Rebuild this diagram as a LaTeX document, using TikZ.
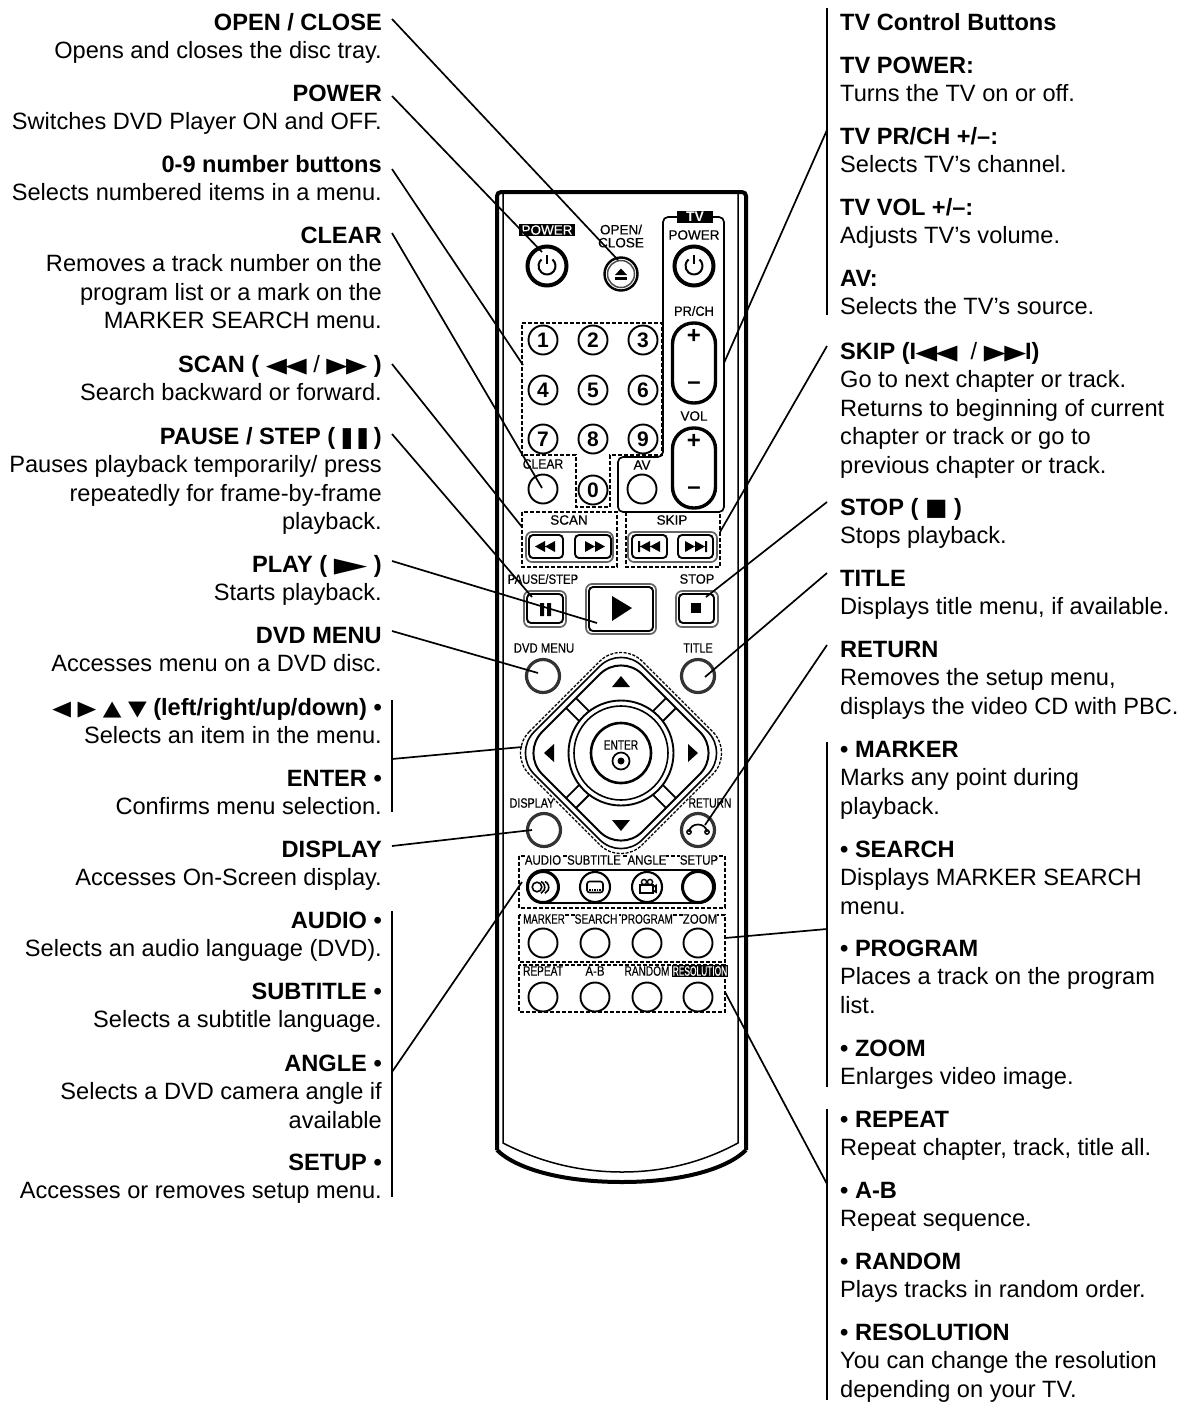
\documentclass[tikz,border=0pt]{standalone}
\usepackage{fontspec}
\usepackage{graphicx}
\setmainfont{Liberation Sans}
\newfontfamily\dvsym{DejaVu Sans}
\newfontfamily\labfont[FakeBold=0.35]{Liberation Sans}
\newcommand\txtfont{\fontsize{23.6}{28.5}\selectfont}
\newcommand\sy[1]{{\dvsym\fontsize{19}{19}\selectfont #1}}
\newcommand\sw[2]{\scalebox{#1}[1.1]{\sy{#2}}}
\newcommand\LL[3]{\node[anchor=north east,inner sep=0pt,align=right,font=\txtfont] (#1) at (382,{#2-20}) {\rule{0pt}{20pt}#3};}
\newcommand\RR[3]{\node[anchor=north west,inner sep=0pt,align=left,font=\txtfont] (#1) at (840,{#2-20}) {\rule{0pt}{20pt}#3};}
\newcommand\RL[5]{\node[rlab] (#1) at (#2,#3) {\scalebox{#4}[1]{#5}};}
\newcommand\RW[5]{\node[rlab,fill=black,text=white,inner xsep=1pt,inner ysep=1pt] (#1) at (#2,#3) {\scalebox{#4}[1]{#5}};}
\newcommand\pwr[2]{\draw[line width=2] ([shift={(-50:8.5)}]#1,#2) arc (-50:230:8.5); \draw[line width=2] (#1,#2-11) -- (#1,#2-2);}
\tikzset{
 rlab/.style={inner sep=0pt,fill=white,font=\labfont\fontsize{13.5}{13.5}\selectfont},
 conn/.style={line width=1.7},
 dash box/.style={line width=1.4,dash pattern=on 4pt off 2pt},
 btn/.style={circle,draw,line width=1.9,inner sep=0pt,minimum size=29},
 numbtn/.style={btn,font=\fontsize{21}{21}\selectfont\bfseries},
 bigbtn/.style={circle,draw,line width=4,inner sep=0pt,minimum size=39},
 grybtn/.style={circle,draw=black!80,line width=3.2,inner sep=0pt,minimum size=33},
 outerkey/.style={draw=black!60,line width=1.7,rounded corners=6},
 innerkey/.style={draw,line width=1.9,rounded corners=4},
 tri/.style={fill=black,draw=none},
 pill/.style={draw,line width=3.4,rounded corners=21}
}
\begin{document}
\begin{tikzpicture}[x=1pt,y=-1pt]
\useasboundingbox[fill=white] (0,0) rectangle (1182,1409);

% ---------- remote body
\draw[line width=4,rounded corners=4] (497,1150) -- (497,192) -- (746,192) -- (746,1150);
\draw[line width=4] (497,1150) .. controls (515,1168) and (560,1182) .. (622,1182) .. controls (684,1182) and (728,1168) .. (746,1150);
\draw[line width=1.5] (503,192) -- (503,1143) .. controls (530,1157) and (570,1172) .. (622,1172) .. controls (674,1172) and (712,1157) .. (738,1143) -- (738,192);

% ---------- top row
\node[bigbtn] (bPower) at (547,266) {};
\pwr{547}{266}
\node[rlab,fill=black,text=white,inner xsep=2.5pt,inner ysep=1.5pt] (lPower) at (547,230) {POWER};
\node[circle,draw,line width=2.4,inner sep=0pt,minimum size=33] (bOpen) at (621,274) {};
\node[circle,draw=black!70,line width=1.5,inner sep=0pt,minimum size=27] (bOpenIn) at (621,274) {};
\fill[tri] (615,275) -- (621,268.5) -- (627,275) -- cycle;
\fill (615,277) rectangle (627,280);
\node[rlab,align=center,font=\labfont\fontsize{13.5}{13}\selectfont] (lOpen) at (621,236) {OPEN/\\CLOSE};

% ---------- TV box
\draw[line width=1.7,rounded corners=5] (663,320) -- (663,217) -- (724,217) -- (724,512) -- (618,512) -- (618,457) -- (663,457) -- (663,320);
\node[inner sep=0pt,fill=black,text=white,inner xsep=9pt,inner ysep=1.5pt,font=\fontsize{14}{14}\selectfont\bfseries] (lTV) at (695,217) {TV};
\RL{lTvPower}{694}{235}{1}{POWER}
\node[bigbtn] (bTvPower) at (694,266) {};
\pwr{694}{266}
\RL{lPrCh}{694}{311}{.95}{PR/CH}
\draw[pill] (672.5,323) rectangle (715.5,403);
\node[inner sep=0pt,font=\fontsize{24}{24}\selectfont\bfseries] (plusA) at (694,336) {+};
\node[inner sep=0pt,font=\fontsize{24}{24}\selectfont\bfseries] (minusA) at (694,386) {–};
\RL{lVol}{694}{416}{1}{VOL}
\draw[pill] (672.5,428) rectangle (715.5,508);
\node[inner sep=0pt,font=\fontsize{24}{24}\selectfont\bfseries] (plusB) at (694,441) {+};
\node[inner sep=0pt,font=\fontsize{24}{24}\selectfont\bfseries] (minusB) at (694,491) {–};

% ---------- number block
\draw[dash box] (522,323) -- (662,323) -- (662,455) -- (610,455) -- (610,507) -- (576,507) -- (576,455) -- (522,455) -- cycle;
\node[numbtn] (n1) at (543,340) {1};
\node[numbtn] (n2) at (593,340) {2};
\node[numbtn] (n3) at (643,340) {3};
\node[numbtn] (n4) at (543,390) {4};
\node[numbtn] (n5) at (593,390) {5};
\node[numbtn] (n6) at (643,390) {6};
\node[numbtn] (n7) at (543,439) {7};
\node[numbtn] (n8) at (593,439) {8};
\node[numbtn] (n9) at (643,439) {9};
\node[numbtn] (n0) at (593,490) {0};
\node[btn] (bClear) at (543,489) {};
\node[btn] (bAV) at (642,489) {};
\RL{lClear}{543}{464}{.9}{CLEAR}
\RL{lAV}{642}{465}{1}{AV}

% ---------- scan / skip
\draw[dash box] (522,512) rectangle (617,567);
\draw[dash box] (626,512) rectangle (720,567);
\RL{lScan}{569}{520}{1}{SCAN}
\RL{lSkip}{672}{520}{1}{SKIP}
\draw[outerkey] (526,532) rectangle (613,562);
\draw[innerkey] (529,535) rectangle (563,558);
\draw[innerkey] (575,535) rectangle (611,558);
\draw[outerkey] (628,532) rectangle (717,562);
\draw[innerkey] (632,535) rectangle (667,558);
\draw[innerkey] (678,535) rectangle (713,558);
\fill[tri] (535,546.5) -- (545,541) -- (545,552) -- cycle (545,546.5) -- (555,541) -- (555,552) -- cycle;
\fill[tri] (595,541) -- (605,546.5) -- (595,552) -- cycle (585,541) -- (595,546.5) -- (585,552) -- cycle;
\fill[tri] (638,541) rectangle (640,552) (640,546.5) -- (650,541) -- (650,552) -- cycle (650,546.5) -- (660,541) -- (660,552) -- cycle;
\fill[tri] (685,541) -- (695,546.5) -- (685,552) -- cycle (695,541) -- (705,546.5) -- (695,552) -- cycle (705,541) rectangle (707,552);

% ---------- transport
\draw[outerkey] (524,591) rectangle (566,627);
\draw[innerkey] (527,594) rectangle (563,623);
\fill (540,603) rectangle (544,616) (547,603) rectangle (551,616);
\draw[outerkey] (586,584) rectangle (656,634);
\draw[innerkey] (589,587) rectangle (653,631);
\fill[tri] (612,596) -- (632,608) -- (612,621) -- cycle;
\draw[outerkey] (676,591) rectangle (718,627);
\draw[innerkey] (679,594) rectangle (714,623);
\fill (691,603) rectangle (701,613);
\RL{lPause}{543}{579}{.84}{PAUSE/STEP}
\RL{lStop}{697}{579}{.95}{STOP}

% ---------- menu keys
\node[grybtn] (bDvd) at (543,676) {};
\node[grybtn] (bTitle) at (698,676) {};
% ---------- d-pad
\draw[line width=1.3,dash pattern=on 3pt off 1.5pt,rounded corners=30] (508,753) -- (621,640) -- (734,753) -- (621,866) -- cycle;
\draw[line width=1.6,rounded corners=30] (513,753) -- (621,645) -- (729,753) -- (621,861) -- cycle;
\draw[line width=2,rounded corners=30] (521,753) -- (621,653) -- (721,753) -- (621,853) -- cycle;
\node[circle,draw,line width=1.9,inner sep=0pt,minimum size=105] (cOuter) at (621,753) {};
\node[circle,draw,line width=1.6,inner sep=0pt,minimum size=94] (cMid) at (621,753) {};
\node[circle,draw,line width=2.6,inner sep=0pt,minimum size=60] (cEnter) at (621,753) {};
\foreach \a in {45,135,225,315}{
  \draw[line width=1.9,rotate around={\a:(621,753)}] (673,746) -- (691,746) (673,760) -- (691,760);
}
\fill[tri] (612,687) -- (621,676) -- (630,687) -- cycle;
\fill[tri] (612,820) -- (630,820) -- (621,831) -- cycle;
\fill[tri] (554,744) -- (554,762) -- (544,753) -- cycle;
\fill[tri] (688,744) -- (688,762) -- (698,753) -- cycle;
\RL{lEnter}{621}{745}{.75}{ENTER}
\node[circle,draw,line width=1.7,inner sep=0pt,minimum size=17] (cDot) at (621,761) {};
\fill (621,761) circle (3.5);

\node[grybtn] (bDisplay) at (544,830) {};
\node[grybtn] (bReturn) at (698,830) {};
\RL{lDvd}{544}{648}{.84}{DVD MENU}
\RL{lTitle}{698}{648}{.8}{TITLE}
\RL{lDisplay}{532}{803}{.8}{DISPLAY}
\RL{lReturn}{710}{803}{.76}{RETURN}
\draw[line width=1.7] (689,832) .. controls (690,822) and (706,822) .. (707,832);
\draw[line width=1.4] (689,832) circle (2.2) (707,832) circle (2.2);

% ---------- lower rows
\draw[dash box] (519,856) rectangle (725,908);
\draw[dash box] (519,915) rectangle (725,962);
\draw[dash box] (519,965) rectangle (725,1012);
\draw[line width=1.9,rounded corners=16] (527,870) rectangle (715,903);
\RL{lAudio}{543}{860}{.85}{AUDIO}
\RL{lSubtitle}{594}{860}{.83}{SUBTITLE}
\RL{lAngle}{647}{860}{.85}{ANGLE}
\RL{lSetup}{699}{860}{.85}{SETUP}
\node[circle,draw,line width=3,fill=white,inner sep=0pt,minimum size=31] (bAudio) at (543,887) {};
\node[circle,draw,line width=2.1,fill=white,inner sep=0pt,minimum size=30] (bSub) at (595,887) {};
\node[circle,draw,line width=2.1,fill=white,inner sep=0pt,minimum size=30] (bAngle) at (647,887) {};
\node[circle,draw,line width=3,fill=white,inner sep=0pt,minimum size=31] (bSetup) at (698,887) {};
\draw[line width=1.6] (537,887) circle (4.8);
\draw[line width=1.6] (541,881.5) arc (-65:65:6.5);
\draw[line width=1.6] (545,881.5) arc (-65:65:6.5);
\draw[line width=1.6,rounded corners=2.5] (587,881.5) rectangle (603,892.5);
\draw[line width=1.2,dash pattern=on 1.5pt off 1pt] (589,890) -- (601,890);
\draw[line width=1.6] (640,885) rectangle (653,893) (653,887) -- (656,885.5) -- (656,892) -- (653,890.5);
\draw[line width=1.4] (644,882) circle (2.6) (650,882) circle (2.6);
\RL{lMarker}{544}{919}{.72}{MARKER}
\RL{lSearch}{596}{919}{.76}{SEARCH}
\RL{lProgram}{647}{919}{.74}{PROGRAM}
\RL{lZoom}{700}{919}{.85}{ZOOM}
\node[btn] (bMarker) at (543,943) {};
\node[btn] (bSearch) at (595,943) {};
\node[btn] (bProgram) at (647,943) {};
\node[btn] (bZoom) at (698,943) {};
\RL{lRepeat}{543}{971}{.75}{REPEAT}
\RL{lAB}{595}{971}{.85}{A-B}
\RL{lRandom}{647}{971}{.75}{RANDOM}
\RW{lRes}{700}{971}{.62}{RESOLUTION}
\node[btn] (bRepeat) at (543,997) {};
\node[btn] (bAB) at (595,997) {};
\node[btn] (bRandom) at (647,997) {};
\node[btn] (bRes) at (698,997) {};

% ---------- left texts
\LL{tOpen}{30}{\textbf{OPEN / CLOSE}\\Opens and closes the disc tray.}
\LL{tPower}{101}{\textbf{POWER}\\Switches DVD Player ON and OFF.}
\LL{tNum}{172}{\textbf{0-9 number buttons}\\Selects numbered items in a menu.}
\LL{tClear}{243}{\textbf{CLEAR}\\Removes a track number on the\\program list or a mark on the\\MARKER SEARCH menu.}
\LL{tScan}{372}{\textbf{SCAN ( \sw{1.45}{◀\kern-1pt◀} \textmd{/} \sw{1.45}{▶\kern-1pt▶} )}\\Search backward or forward.}
\LL{tPause}{444}{\textbf{PAUSE / STEP ( \kern-5pt\sw{1.3}{❚\kern-4pt❚}\kern1pt )}\\Pauses playback temporarily/ press\\repeatedly for frame-by-frame\\playback.}
\LL{tPlay}{572}{\textbf{PLAY ( \sw{2.3}{▶} )}\\Starts playback.}
\LL{tDvd}{643}{\textbf{DVD MENU}\\Accesses menu on a DVD disc.}
\LL{tArrow}{715}{\textbf{\sw{1.28}{◀} \sw{1.28}{▶} \sw{1.28}{▲} \sw{1.28}{▼} (left/right/up/down) •}\\Selects an item in the menu.}
\LL{tEnter}{786}{\textbf{ENTER •}\\Confirms menu selection.}
\LL{tDisplay}{857}{\textbf{DISPLAY}\\Accesses On-Screen display.}
\LL{tAudio}{928}{\textbf{AUDIO •}\\Selects an audio language (DVD).}
\LL{tSub}{999}{\textbf{SUBTITLE •}\\Selects a subtitle language.}
\LL{tAngle}{1071}{\textbf{ANGLE •}\\Selects a DVD camera angle if\\available}
\LL{tSetup}{1170}{\textbf{SETUP •}\\Accesses or removes setup menu.}

% ---------- right texts
\RR{tTvc}{30}{\textbf{TV Control Buttons}}
\RR{tTvp}{73}{\textbf{TV POWER:}\\Turns the TV on or off.}
\RR{tTvc2}{144}{\textbf{TV PR/CH +/–:}\\Selects TV’s channel.}
\RR{tTvv}{215}{\textbf{TV VOL +/–:}\\Adjusts TV’s volume.}
\RR{tAv}{286}{\textbf{AV:}\\Selects the TV’s source.}
\RR{tSkip}{359}{\textbf{SKIP (I\kern-1pt\sw{1.5}{◀\kern-1pt◀} \ \textmd{/}\ \sw{1.5}{▶\kern-1pt▶}\kern-1pt I)}\\Go to next chapter or track.\\Returns to beginning of current\\chapter or track or go to\\previous chapter or track.}
\RR{tStop}{515}{\textbf{STOP ( \scalebox{1.25}{\sy{■}} )}\\Stops playback.}
\RR{tTitle}{586}{\textbf{TITLE}\\Displays title menu, if available.}
\RR{tReturn}{657}{\textbf{RETURN}\\Removes the setup menu,\\displays the video CD with PBC.}
\RR{tMarker}{757}{\textbf{• MARKER}\\Marks any point during\\playback.}
\RR{tSearch}{857}{\textbf{• SEARCH}\\Displays MARKER SEARCH\\menu.}
\RR{tProgram}{956}{\textbf{• PROGRAM}\\Places a track on the program\\list.}
\RR{tZoom}{1056}{\textbf{• ZOOM}\\Enlarges video image.}
\RR{tRepeat}{1127}{\textbf{• REPEAT}\\Repeat chapter, track, title all.}
\RR{tAB}{1198}{\textbf{• A-B}\\Repeat sequence.}
\RR{tRandom}{1269}{\textbf{• RANDOM}\\Plays tracks in random order.}
\RR{tRes}{1340}{\textbf{• RESOLUTION}\\You can change the resolution\\depending on your TV.}

% ---------- connector anchors
\coordinate (aOpen) at (392,19);   \coordinate (zOpen) at (618,260);
\coordinate (aPower) at (392,96);  \coordinate (zPower) at (542,252);
\coordinate (aNum) at (392,169);   \coordinate (zNum) at (523,365);
\coordinate (aClear) at (392,233); \coordinate (zClear) at (542,488);
\coordinate (aScan) at (392,364);  \coordinate (zScan) at (522,527);
\coordinate (aPause) at (392,434); \coordinate (zPause) at (532,597);
\coordinate (aPlay) at (392,561);  \coordinate (zPlay) at (597,623);
\coordinate (aDvd) at (392,631);   \coordinate (zDvd) at (538,673);
\coordinate (aNav) at (392,759);   \coordinate (zNav) at (522,747);
\coordinate (aDisp) at (392,846);  \coordinate (zDisp) at (532,830);
\coordinate (aAud) at (392,1072);  \coordinate (zAud) at (522,882);
\coordinate (aTv) at (827,130);    \coordinate (zTv) at (724,363);
\coordinate (aSkip) at (827,346);  \coordinate (zSkip) at (720,532);
\coordinate (aStop) at (827,502);  \coordinate (zStop) at (706,597);
\coordinate (aTitle) at (827,573); \coordinate (zTitle) at (705,677);
\coordinate (aRet) at (827,645);   \coordinate (zRet) at (705,825);
\coordinate (aMark) at (827,929);  \coordinate (zMark) at (725,938);
\coordinate (aRep) at (827,1184);  \coordinate (zRep) at (725,992);

% ---------- brackets
\coordinate (bl1) at (392,700); \coordinate (bl2) at (392,812);
\coordinate (bl3) at (392,911); \coordinate (bl4) at (392,1197);
\coordinate (br1) at (827,8);   \coordinate (br2) at (827,315);
\coordinate (br3) at (827,742); \coordinate (br4) at (827,1087);
\coordinate (br5) at (827,1109);\coordinate (br6) at (827,1400);
\draw[conn] (bl1) -- (bl2);
\draw[conn] (bl3) -- (bl4);
\draw[conn] (br1) -- (br2);
\draw[conn] (br3) -- (br4);
\draw[conn] (br5) -- (br6);

% ---------- connectors
\foreach \n in {Open,Power,Num,Clear,Scan,Pause,Play,Dvd,Nav,Disp,Aud,Tv,Skip,Stop,Title,Ret,Mark,Rep}{
  \draw[conn] (a\n) -- (z\n);
}
\end{tikzpicture}
\end{document}
